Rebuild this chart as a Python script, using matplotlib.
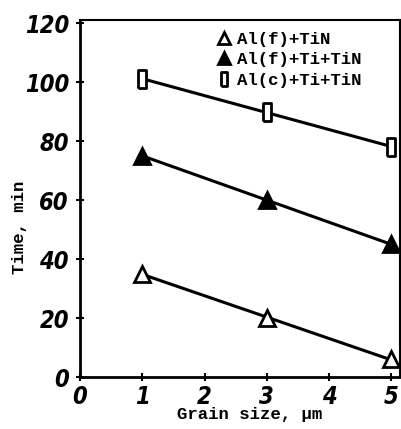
import numpy as np
import matplotlib
matplotlib.use("Agg")
import matplotlib.pyplot as plt

# grain size (um) and time (min)
grain = [1, 3, 5]
t_alf_tin = [35, 20, 6]
t_alf_ti_tin = [75, 60, 45]
t_alc_ti_tin = [101, 90, 78]
labels = ["Al(f)+TiN", "Al(f)+Ti+TiN", "Al(c)+Ti+TiN"]

tick_font = dict(family="DejaVu Sans", stretch="condensed", weight="bold",
                 style="italic", size=17)
mono = dict(family="Liberation Mono", weight="bold")

rect = [(-0.45, -1), (0.45, -1), (0.45, 1), (-0.45, 1), (-0.45, -1)]

fig = plt.figure(figsize=(4.02, 4.29), dpi=100)
ax = fig.add_axes([0.199, 0.121, 0.796, 0.832])

series = [
    (t_alf_tin, "^", "white", 12),
    (t_alf_ti_tin, "^", "black", 12),
    (t_alc_ti_tin, rect, "white", 13),
]
x = np.array(grain)
for (y, m, fc, ms), lab in zip(series, labels):
    k, b = np.polyfit(x, y, 1)
    ax.plot(x, k * x + b, color="black", lw=2.2, zorder=2)
    ax.plot(x, y, linestyle="none", marker=m, ms=ms, mfc=fc, mec="black",
            mew=2, label=lab, zorder=3)

ax.set_xlim(0, 5.14)
ax.set_ylim(0, 121)
ax.set_xticks([0, 1, 2, 3, 4, 5])
ax.set_yticks([0, 20, 40, 60, 80, 100, 120])
ax.set_xticklabels(["0", "1", "2", "3", "4", "5"], **tick_font)
ax.set_yticklabels(["0", "20", "40", "60", "80", "100", "120"], **tick_font)
ax.tick_params(direction="inout", length=6, width=1.5)
ax.tick_params(axis="y", pad=5)
ax.tick_params(axis="x", pad=3)
for s in ax.spines.values():
    s.set_linewidth(1.5)
ax.spines["bottom"].set_linewidth(2)
ax.spines["left"].set_linewidth(2)

ax.set_xlabel("Grain size, \u03bcm", fontsize=12.5, labelpad=1, **mono)
ax.set_ylabel("Time, min", fontsize=12.5, labelpad=1, **mono)
ax.xaxis.set_label_coords(0.53, -0.085)
ax.yaxis.set_label_coords(-0.165, 0.42)

leg = ax.legend(loc="upper left", bbox_to_anchor=(0.39, 1.0), frameon=False,
                prop=dict(family="Liberation Mono", weight="bold", size=12.5),
                handletextpad=0.3, labelspacing=0.33, handlelength=0.9,
                markerscale=0.75, borderaxespad=0.25)

fig.savefig("out.png", dpi=100)
